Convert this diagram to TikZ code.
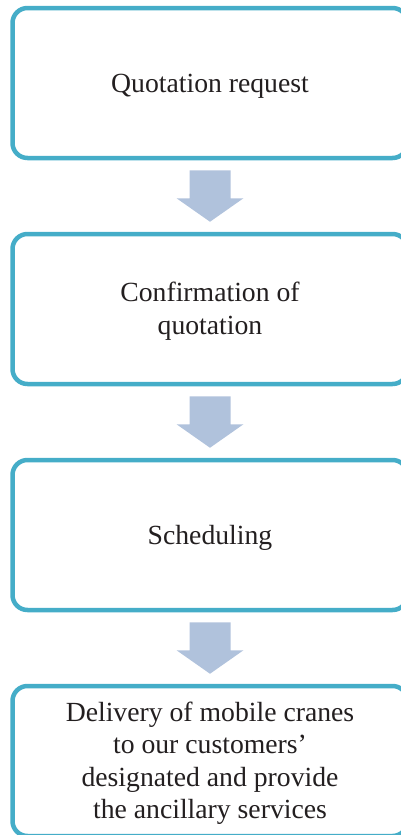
\documentclass[tikz,border=0pt]{standalone}
\usepackage{fontspec}
\setmainfont{Liberation Serif}
\usetikzlibrary{calc}
\definecolor{boxline}{HTML}{45ADC8}
\definecolor{arrowfill}{HTML}{B0C2DC}
\definecolor{textcol}{HTML}{231F20}
\tikzset{
  stepbox/.style={draw=boxline, line width=4.5pt, rounded corners=15pt,
    minimum width=395pt, minimum height=150pt, fill=white},
  steptext/.style={align=center, text=textcol, inner sep=0pt,
    font=\fontsize{27.7}{32.5}\selectfont},
  blockarrow/.style={fill=arrowfill, draw=none}
}
\newcommand{\flowarrow}[2]{%
  \fill[blockarrow] ($(#1.south)+(-20.5,-10)$) -- ($(#1.south)+(20.5,-10)$)
    -- ($(#1.south)+(20.5,-38)$) -- ($(#1.south)+(33.5,-38)$)
    -- ($(#2.north)+(0,10)$) -- ($(#1.south)+(-33.5,-38)$)
    -- ($(#1.south)+(-20.5,-38)$) -- cycle;}
\begin{document}
\begin{tikzpicture}[x=1pt,y=1pt]
\useasboundingbox (0,0) rectangle (401,-835);
\node[stepbox] (q) at (210,-83) {};
\node[stepbox] (c) at (210,-309) {};
\node[stepbox] (s) at (210,-535) {};
\node[stepbox] (d) at (210,-761) {};
\node[steptext] (qt) at ($(q.center)+(0,-3)$) {Quotation request};
\node[steptext] (ct) at ($(c.center)+(0,-2)$) {Confirmation of\\quotation};
\node[steptext] (st) at ($(s.center)+(0,-3)$) {Scheduling};
\node[steptext] (dt) at ($(d.center)+(0,-2)$) {Delivery of mobile cranes\\to our customers’\\designated and provide\\the ancillary services};
\flowarrow{q}{c}
\flowarrow{c}{s}
\flowarrow{s}{d}
\end{tikzpicture}
\end{document}
